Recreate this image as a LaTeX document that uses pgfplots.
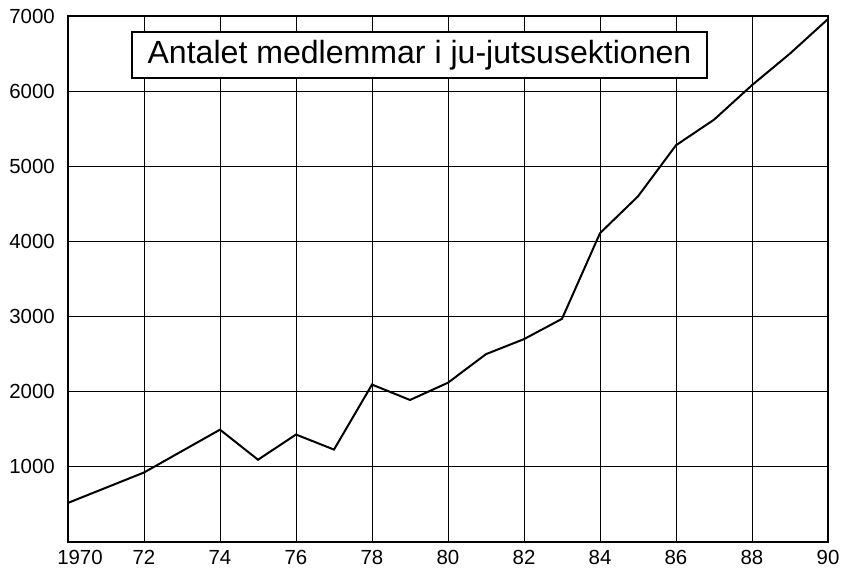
\documentclass[border=0pt]{standalone}
\usepackage{pgfplots}
\pgfplotsset{compat=1.18}
\usepackage{fontspec}
\setmainfont{Liberation Sans}
\begin{document}
\begin{tikzpicture}
\begin{axis}[
  scale only axis,
  width=760bp, height=526bp,
  xmin=1970, xmax=1990, ymin=0, ymax=7000,
  xtick={1970,1972,...,1990},
  xticklabels={\hspace*{24bp}1970,72,74,76,78,80,82,84,86,88,90},
  ytick={1000,2000,...,7000},
  yticklabels={1000,2000,3000,4000,5000,6000,7000},
  major tick length=0pt,
  grid=major,
  major grid style={black, line width=0.9bp},
  axis line style={black, line width=2bp},
  tick label style={font=\fontsize{20.5}{22}\selectfont, inner sep=0pt},
  yticklabel style={xshift=-13bp},
  xticklabel style={anchor=north, text height=15bp, text depth=0pt, yshift=-7bp},
  clip=false,
]
\addplot[black, line width=2bp] coordinates {
 (1970,520) (1972,925) (1974,1495) (1975,1095) (1976,1430) (1977,1230)
 (1978,2095) (1979,1890) (1980,2120) (1981,2500) (1982,2700) (1983,2970)
 (1984,4110) (1985,4600) (1986,5280) (1987,5620) (1988,6080) (1989,6500) (1990,6960)
};
\node[draw=black, line width=1.2bp, fill=white, minimum width=575bp, minimum height=46bp, inner sep=0pt,
      font=\fontsize{32.2}{34}\selectfont] at (rel axis cs:0.4625,0.926) {Antalet medlemmar i ju-jutsusektionen};
\coordinate (a) at (rel axis cs:0,0);
\coordinate (b) at (rel axis cs:1,1);
\end{axis}
\pgfresetboundingbox
\path (a) ++(-68bp,-26bp) coordinate (c);
\path (b) ++(14bp,16bp) coordinate (d);
\useasboundingbox (c) rectangle (d);
\end{tikzpicture}
\end{document}
